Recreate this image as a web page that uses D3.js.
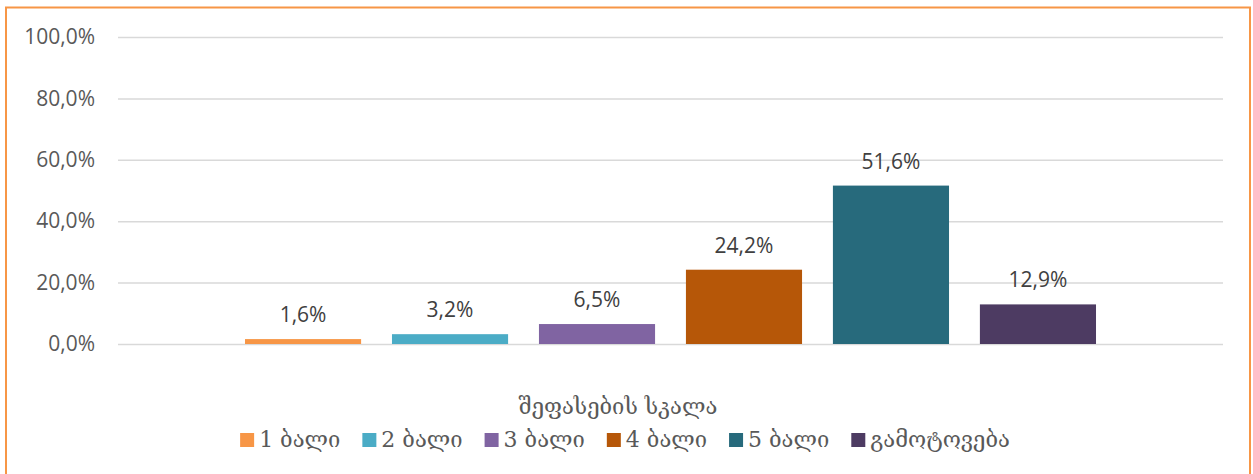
<!DOCTYPE html>
<html>
<head>
<meta charset="utf-8">
<script src="https://d3js.org/d3.v7.min.js"></script>
<style>
  body { margin: 0; background: #fff; }
  svg { display: block; }
</style>
</head>
<body>
<svg width="1253" height="474"></svg>
<script>
// data
const series = ["1 ბალი", "2 ბალი", "3 ბალი", "4 ბალი", "5 ბალი", "გამოტოვება"];
const values = [1.6, 3.2, 6.5, 24.2, 51.6, 12.9];
const colors = ["#F79646", "#4BACC6", "#8064A2", "#B65708", "#276A7C", "#4D3B62"];
const yTicks = [0, 20, 40, 60, 80, 100];
const legendTitle = "შეფასების სკალა";

const svg = d3.select("svg");
const numFont = "'Open Sans', sans-serif";
const geoFont = "'DejaVu Serif', serif";

// outer frame
svg.append("rect")
  .attr("x", 6).attr("y", 7.5)
  .attr("width", 1244).attr("height", 480)
  .attr("fill", "none")
  .attr("stroke", "#F79646")
  .attr("stroke-width", 2);

const plotLeft = 118, plotRight = 1223, plotTop = 37, plotBottom = 344;

const y = d3.scaleLinear().domain([0, 100]).range([plotBottom, plotTop]);
const x = d3.scaleBand().domain(series).range([plotLeft, plotRight])
  .paddingInner(0.21).paddingOuter(0.864);

// gridlines + tick labels
const yAxis = svg.append("g")
  .attr("transform", "translate(" + plotLeft + ",0)")
  .call(d3.axisLeft(y).tickValues(yTicks)
    .tickSize(-(plotRight - plotLeft))
    .tickPadding(23)
    .tickFormat(d => d.toFixed(1).replace(".", ",") + "%"));
yAxis.select(".domain").remove();
yAxis.selectAll("line").attr("stroke", "#D9D9D9").attr("stroke-width", 1.5);
yAxis.selectAll("text")
  .attr("fill", "#595959")
  .style("font-family", numFont)
  .style("font-size", "21px");

// bars
svg.append("g").selectAll("rect")
  .data(values)
  .enter().append("rect")
  .attr("x", (d, i) => x(series[i]))
  .attr("y", d => y(d))
  .attr("width", x.bandwidth())
  .attr("height", d => plotBottom - y(d))
  .attr("fill", (d, i) => colors[i]);

// value labels
svg.append("g").selectAll("text")
  .data(values)
  .enter().append("text")
  .attr("x", (d, i) => x(series[i]) + x.bandwidth() / 2)
  .attr("y", d => y(d) - 17)
  .attr("text-anchor", "middle")
  .attr("fill", "#404040")
  .style("font-family", numFont)
  .style("font-size", "21px")
  .text(d => d.toFixed(1).replace(".", ",") + "%");

// legend title
svg.append("text")
  .attr("x", 618).attr("y", 414)
  .attr("text-anchor", "middle")
  .attr("fill", "#595959")
  .style("font-family", geoFont)
  .style("font-size", "22px")
  .text(legendTitle);

// legend items, laid out by measured width then centred
const legend = svg.append("g");
const items = legend.selectAll("g")
  .data(series)
  .enter().append("g");
items.append("rect")
  .attr("width", 14).attr("height", 14)
  .attr("y", -14)
  .attr("fill", (d, i) => colors[i]);
items.append("text")
  .attr("x", 19).attr("y", 0)
  .attr("fill", "#595959")
  .style("font-family", geoFont)
  .style("font-size", "22px")
  .text(d => d);

const gap = 22;
let pos = 0;
items.each(function() {
  d3.select(this).attr("transform", "translate(" + pos + ",0)");
  const w = 19 + d3.select(this).select("text").node().getComputedTextLength();
  pos += w + gap;
});
const total = pos - gap;
legend.attr("transform", "translate(" + (625 - total / 2) + ",447)");
</script>
</body>
</html>
